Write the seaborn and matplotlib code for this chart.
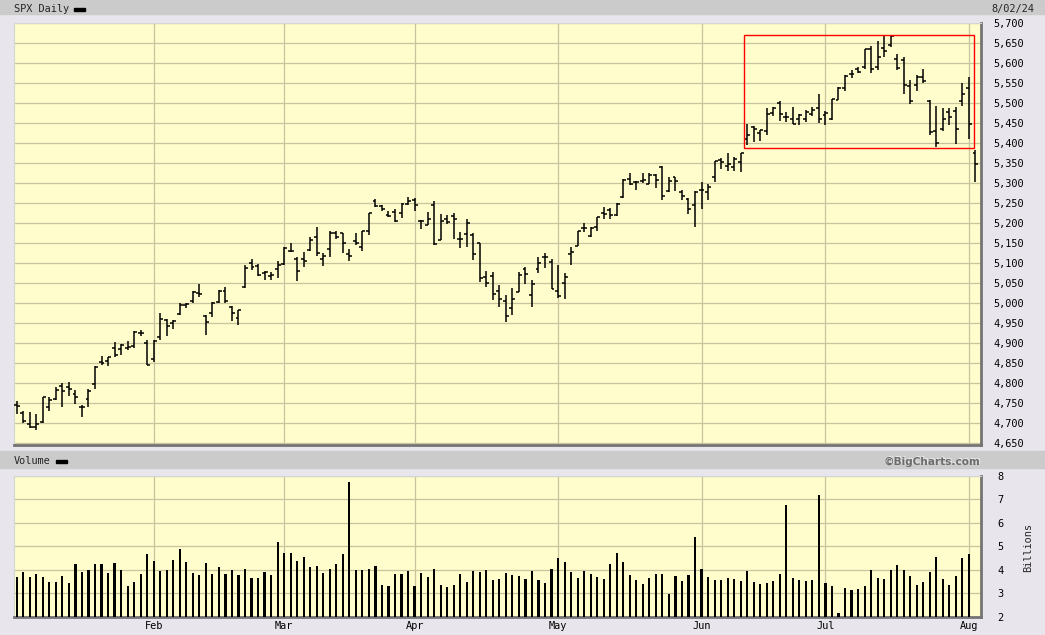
import numpy as np
import pandas as pd
import seaborn as sns
import matplotlib.pyplot as plt
from matplotlib.patches import Rectangle

# trading days shown (Jan 2 - Aug 2, 2024)
month_days = [
    (1, [2, 3, 4, 5, 8, 9, 10, 11, 12, 16, 17, 18, 19, 22, 23, 24, 25, 26, 29, 30, 31]),
    (2, [1, 2, 5, 6, 7, 8, 9, 12, 13, 14, 15, 16, 20, 21, 22, 23, 26, 27, 28, 29]),
    (3, [1, 4, 5, 6, 7, 8, 11, 12, 13, 14, 15, 18, 19, 20, 21, 22, 25, 26, 27, 28]),
    (4, [1, 2, 3, 4, 5, 8, 9, 10, 11, 12, 15, 16, 17, 18, 19, 22, 23, 24, 25, 26, 29, 30]),
    (5, [1, 2, 3, 6, 7, 8, 9, 10, 13, 14, 15, 16, 17, 20, 21, 22, 23, 24, 28, 29, 30, 31]),
    (6, [3, 4, 5, 6, 7, 10, 11, 12, 13, 14, 17, 18, 20, 21, 24, 25, 26, 27, 28]),
    (7, [1, 2, 3, 5, 8, 9, 10, 11, 12, 15, 16, 17, 18, 19, 22, 23, 24, 25, 26, 29, 30, 31]),
    (8, [1, 2]),
]

opens = [4745, 4726, 4697, 4690, 4703, 4741, 4759, 4792, 4791, 4772, 4739, 4760, 4797, 4853, 4856, 4888, 4886, 4888, 4892, 4925, 4899,
         4861, 4916, 4957, 4950, 4973, 4996, 5004, 5026, 4967, 4976, 5003, 5031, 4989, 4963, 5039, 5100, 5093, 5074, 5067, 5085,
         5098, 5131, 5110, 5109, 5132, 5164, 5111, 5134, 5174, 5175, 5123, 5154, 5140, 5181, 5254, 5243, 5219, 5228, 5226, 5248,
         5257, 5204, 5194, 5244, 5158, 5211, 5217, 5160, 5172, 5171, 5149, 5064, 5068, 5031, 5005, 4987, 5028, 5084, 5019, 5084, 5114, 5103,
         5029, 5050, 5122, 5143, 5187, 5168, 5189, 5225, 5233, 5221, 5264, 5310, 5303, 5305, 5298, 5319, 5340, 5281, 5315, 5278, 5259, 5244,
         5283, 5278, 5315, 5357, 5343, 5341, 5353, 5409, 5441, 5424, 5431, 5476, 5499, 5466, 5459, 5460, 5460, 5473, 5488,
         5471, 5461, 5507, 5538, 5572, 5584, 5591, 5635, 5590, 5638, 5645, 5610, 5608, 5543, 5544, 5566, 5505, 5429, 5434, 5477, 5479, 5505,
         5537, 5376]
highs = [4755, 4729, 4727, 4722, 4764, 4765, 4791, 4799, 4802, 4783, 4744, 4785, 4842, 4868, 4866, 4903, 4898, 4906, 4929, 4932, 4907,
         4907, 4975, 4959, 4957, 4999, 5000, 5030, 5048, 4970, 5002, 5032, 5039, 4993, 4983, 5094, 5111, 5097, 5080, 5077, 5105,
         5140, 5149, 5114, 5127, 5165, 5190, 5125, 5179, 5179, 5176, 5136, 5175, 5180, 5226, 5261, 5246, 5229, 5235, 5249, 5264,
         5263, 5208, 5228, 5256, 5222, 5219, 5224, 5178, 5211, 5175, 5151, 5079, 5077, 5046, 5019, 5038, 5077, 5089, 5057, 5114, 5124, 5110,
         5096, 5074, 5140, 5181, 5200, 5191, 5215, 5239, 5238, 5250, 5311, 5325, 5305, 5325, 5324, 5323, 5342, 5316, 5315, 5282, 5263, 5280,
         5302, 5298, 5354, 5362, 5376, 5366, 5376, 5447, 5442, 5433, 5488, 5490, 5505, 5478, 5490, 5472, 5483, 5490, 5523,
         5479, 5509, 5540, 5570, 5583, 5590, 5635, 5642, 5655, 5667, 5670, 5623, 5614, 5557, 5570, 5585, 5508, 5492, 5488, 5487, 5489, 5551,
         5566, 5383]
lows = [4722, 4700, 4687, 4682, 4700, 4730, 4757, 4740, 4768, 4747, 4714, 4740, 4785, 4845, 4842, 4865, 4869, 4882, 4887, 4917, 4845,
        4853, 4907, 4918, 4935, 4970, 4988, 5000, 5016, 4920, 4964, 4999, 4999, 4955, 4946, 5038, 5082, 5068, 5057, 5058, 5062,
        5094, 5127, 5056, 5091, 5131, 5117, 5092, 5115, 5161, 5126, 5104, 5146, 5131, 5171, 5240, 5229, 5216, 5203, 5213, 5245,
        5229, 5184, 5194, 5146, 5157, 5197, 5160, 5138, 5139, 5107, 5053, 5039, 5008, 4991, 4953, 4969, 5027, 5047, 4990, 5074, 5088, 5035,
        5013, 5011, 5096, 5143, 5178, 5166, 5180, 5210, 5211, 5218, 5263, 5296, 5283, 5299, 5297, 5287, 5257, 5278, 5280, 5258, 5222, 5191,
        5234, 5257, 5302, 5335, 5331, 5331, 5327, 5396, 5403, 5404, 5421, 5468, 5455, 5452, 5447, 5446, 5452, 5467, 5451,
        5445, 5458, 5507, 5531, 5562, 5574, 5586, 5576, 5583, 5616, 5640, 5583, 5522, 5497, 5529, 5550, 5419, 5390, 5430, 5444, 5398, 5493,
        5410, 5302]
closes = [4743, 4705, 4689, 4697, 4764, 4757, 4783, 4780, 4784, 4766, 4739, 4781, 4840, 4850, 4865, 4869, 4894, 4891, 4928, 4925, 4846,
          4906, 4959, 4943, 4954, 4995, 4998, 5027, 5022, 4953, 5001, 5030, 5006, 4976, 4982, 5087, 5089, 5070, 5078, 5070, 5096,
          5137, 5131, 5079, 5105, 5157, 5124, 5118, 5175, 5165, 5150, 5117, 5149, 5179, 5225, 5242, 5234, 5218, 5204, 5248, 5254,
          5244, 5206, 5211, 5147, 5204, 5202, 5210, 5161, 5199, 5123, 5062, 5051, 5022, 5011, 4967, 5011, 5071, 5072, 5048, 5100, 5116, 5036,
          5018, 5064, 5128, 5181, 5188, 5188, 5214, 5223, 5221, 5247, 5308, 5297, 5303, 5308, 5321, 5307, 5268, 5305, 5306, 5267, 5235, 5278,
          5283, 5291, 5354, 5353, 5347, 5361, 5375, 5421, 5434, 5432, 5473, 5487, 5473, 5465, 5448, 5469, 5478, 5483, 5460,
          5475, 5509, 5537, 5567, 5573, 5577, 5634, 5585, 5615, 5631, 5667, 5588, 5545, 5505, 5564, 5556, 5427, 5399, 5459, 5464, 5436, 5522,
          5447, 5347]

# volume in billions (Aug 2 not shown)
volumes = [3.69, 3.90, 3.69, 3.82, 3.69, 3.48, 3.48, 3.73, 3.43, 4.24, 3.90, 3.99, 4.24, 4.24, 3.86, 4.28, 3.99, 3.30, 3.48, 3.82, 4.67,
           4.37, 3.94, 3.99, 4.41, 4.88, 4.33, 3.86, 3.77, 4.28, 3.82, 4.11, 3.82, 3.99, 3.77, 4.03, 3.65, 3.65, 3.90, 3.77, 5.18,
           4.71, 4.71, 4.37, 4.54, 4.11, 4.16, 3.86, 4.03, 4.24, 4.67, 7.74, 3.99, 3.99, 4.03, 4.16, 3.35, 3.30, 3.82, 3.82, 3.94,
           3.30, 3.86, 3.69, 4.03, 3.35, 3.26, 3.35, 3.82, 3.48, 3.94, 3.90, 3.99, 3.56, 3.60, 3.86, 3.77, 3.73, 3.60, 3.94, 3.56, 3.43, 4.03,
           4.50, 4.33, 3.90, 3.65, 3.94, 3.82, 3.69, 3.60, 4.24, 4.71, 4.33, 3.77, 3.56, 3.39, 3.65, 3.82, 3.82, 2.96, 3.73, 3.52, 3.77, 5.39,
           4.03, 3.69, 3.56, 3.56, 3.65, 3.60, 3.52, 3.94, 3.48, 3.39, 3.43, 3.52, 3.82, 6.75, 3.65, 3.56, 3.52, 3.56, 7.18,
           3.43, 3.30, 2.16, 3.22, 3.13, 3.18, 3.30, 3.99, 3.65, 3.60, 3.99, 4.20, 3.99, 3.73, 3.35, 3.48, 3.90, 4.54, 3.60, 3.35, 3.73, 4.50,
           4.67]

month_names = ['Feb', 'Mar', 'Apr', 'May', 'Jun', 'Jul', 'Aug']
price_ticks = list(range(4650, 5701, 50))
vol_ticks = [2, 3, 4, 5, 6, 7, 8]

dates = [pd.Timestamp(2024, m, d) for m, ds in month_days for d in ds]
df = pd.DataFrame({'date': dates, 'open': opens, 'high': highs, 'low': lows, 'close': closes})
df['i'] = np.arange(len(df))
dv = pd.DataFrame({'i': np.arange(len(volumes)), 'volume': volumes})
month_starts = df.loc[df['date'].dt.month.diff().fillna(0) != 0, 'i'].tolist()

sns.set_style('white')
plt.rcParams['font.family'] = ['DejaVu Sans Mono', 'DejaVu Sans']

W, H = 1045, 635
YELLOW = '#fefdcb'
GRID = '#c9c39e'
fig = plt.figure(figsize=(W / 100, H / 100), dpi=100, facecolor='#e8e6ec')


def fx(x):
    return x / W


def fy(y):
    return 1 - y / H


# gray header bands
fig.patches.append(Rectangle((0, fy(14)), 1, 14 / H, transform=fig.transFigure, color='#cbcbcb', zorder=0))
fig.patches.append(Rectangle((0, fy(468)), 1, 17 / H, transform=fig.transFigure, color='#cbcbcb', zorder=0))

ax = fig.add_axes([fx(14), fy(445), fx(981 - 14), (445 - 23) / H])
axv = fig.add_axes([fx(14), fy(616.7), fx(981 - 14), (616.7 - 475.7) / H])

xlim = (-0.42, 147.85)

# price panel
ax.set_facecolor(YELLOW)
ax.vlines(df['i'], df['low'], df['high'], color='black', lw=1.1, zorder=3)
ax.hlines(df['open'], df['i'] - 0.45, df['i'], color='black', lw=1.1, zorder=3)
ax.hlines(df['close'], df['i'], df['i'] + 0.45, color='black', lw=1.1, zorder=3)
ax.add_patch(Rectangle((111.5, 5388), 146.8 - 111.5, 5671 - 5388, fill=False, edgecolor='#ff0000', lw=1.0, zorder=4))
ax.set_xlim(*xlim)
ax.set_ylim(4645, 5700)
ax.set_yticks(price_ticks)
ax.set_yticklabels([f'{v:,}' for v in price_ticks])
ax.yaxis.tick_right()
ax.set_xticks(month_starts)
ax.set_xticklabels([])

# volume panel
axv.set_facecolor(YELLOW)
sns.barplot(data=dv, x='i', y='volume', native_scale=True, width=0.33, color='black',
            errorbar=None, ax=axv, zorder=3, linewidth=0)
for p in axv.patches:
    p.set_antialiased(False)
axv.set_xlim(*xlim)
axv.set_ylim(2, 8)
axv.set_yticks(vol_ticks)
axv.set_yticklabels([str(v) for v in vol_ticks])
axv.yaxis.tick_right()
axv.set_xticks(month_starts)
axv.set_xticklabels(month_names)
axv.set_xlabel('')
axv.set_ylabel('')

for a in (ax, axv):
    a.grid(True, color=GRID, lw=0.9, zorder=1)
    a.set_axisbelow(True)
    a.tick_params(length=0, labelsize=7.4, colors='black')
    a.spines['left'].set_color('#d6d6d6')
    a.spines['top'].set_color('#d6d6d6')
    a.spines['left'].set_linewidth(0.8)
    a.spines['top'].set_linewidth(0.8)
    a.spines['right'].set_color('#747474')
    a.spines['bottom'].set_color('#747474')
    a.spines['right'].set_linewidth(2)
    a.spines['bottom'].set_linewidth(2)
ax.tick_params(axis='y', pad=9)
axv.tick_params(axis='y', pad=12)
axv.tick_params(axis='x', pad=3)

# header texts
fig.text(fx(14), fy(9), 'SPX Daily', fontsize=7.4, va='center', ha='left')
fig.patches.append(Rectangle((fx(74), fy(10.8)), fx(11), 3 / H, transform=fig.transFigure, color='black'))
fig.text(fx(1034), fy(9), '8/02/24', fontsize=7.4, va='center', ha='right')
fig.text(fx(14), fy(461), 'Volume', fontsize=7.4, va='center', ha='left')
fig.patches.append(Rectangle((fx(56), fy(462.5)), fx(11), 3 / H, transform=fig.transFigure, color='black'))
fig.text(fx(981.5), fy(460.5), '\u00a9BigCharts.com', fontsize=7.6, fontweight='bold', va='center', ha='right',
         color='#e8e8e8', family='DejaVu Sans')
fig.text(fx(980.5), fy(461.5), '\u00a9BigCharts.com', fontsize=7.6, fontweight='bold', va='center', ha='right',
         color='#6c6c6c', family='DejaVu Sans')
fig.text(fx(1028), fy(547), 'Billions', fontsize=7.4, rotation=90, va='center', ha='center')

fig.savefig('out.png', dpi=100, facecolor=fig.get_facecolor())
